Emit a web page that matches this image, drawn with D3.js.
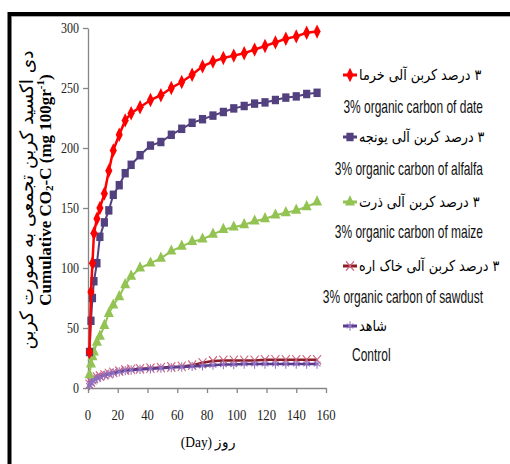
<!DOCTYPE html>
<html><head><meta charset="utf-8">
<script src="https://cdn.jsdelivr.net/npm/d3@7"></script>
<style>html,body{margin:0;padding:0;background:#fff}</style>
</head><body><svg id="chart" width="510" height="464"></svg>
<script>
// Incubation days on which cumulative CO2-C was measured
const days = [1,2,3,4,6,8,11,14,17,21,25,29,35,42,49,56,63,70,77,84,91,98,105,112,119,126,133,140,147,154];
const dateVals    = [30,80,104,129,141,150,162,181,198,211,223,229,234,240,244,250,255,261,268,272,275,277,279,282,285,288,291,293,296,297];
const alfalfaVals = [30,56,75,89,104,126,138,148,161,169,179,186,194,202,205,211,216,221,224,227,230,233,235,237,238,240,242,243,245,246];
const maizeVals   = [11,20,26,30,38,43,52,62,69,76,86,93,100,104,108,114,118,122,124,128,132,134,136,139,141,144,146,148,151,155];
const sawdustVals = [3,5,7,8,9,10,11,12,13,14,15,15.5,16,16.5,17,17.5,18,19,21,22.5,23,23,23,23,23.5,23.5,23.5,23.5,23.5,23.5];
const controlVals = [2,4,6,7,8,9,10.5,11.5,12.5,13.5,14.5,15,15.5,16,16.5,17,17.5,18,18.5,19,19.5,19.5,20,20,20,20,20,20,20,20];
const xTicks = [0,20,40,60,80,100,120,140,160];
const yTicks = [0,50,100,150,200,250,300];
const namesFa = ["۳ درصد کربن آلی خرما","۳ درصد کربن آلی یونجه","۳ درصد کربن آلی ذرت","۳ درصد کربن آلی خاک اره","شاهد"];
const namesEn = ["3% organic carbon of date","3% organic carbon of alfalfa","3% organic carbon of maize","3% organic carbon of  sawdust","Control"];

const svg = d3.select("#chart");
const serif = "'Liberation Serif','Times New Roman',serif";
const sans = "'Liberation Sans',Arial,sans-serif";
const arabic = "'DejaVu Sans','Noto Sans',sans-serif";
const RLM = "\u200F"; // keeps the Persian digit at the right end of a right-to-left label

// outer frame
svg.append("rect").attr("x",9.5).attr("y",14).attr("width",540).attr("height",500)
  .attr("fill","#fff").attr("stroke","#000").attr("stroke-width",4);
svg.append("line").attr("x1",12).attr("x2",510).attr("y1",16.5).attr("y2",16.5)
  .attr("stroke","#aaa").attr("stroke-width",1);

const x = d3.scaleLinear().domain([0,160]).range([88,326]);
const y = d3.scaleLinear().domain([0,300]).range([388,28]);

// condensed text helper
function label(g, px, py, str, o) {
  return g.append("text")
    .attr("transform", `translate(${px},${py}) scale(${o.sx||1},1)`)
    .attr("font-family", o.font).attr("font-size", o.size)
    .attr("font-weight", o.weight||"normal")
    .attr("fill", o.fill||"#000")
    .attr("text-anchor", o.anchor||"start")
    .attr("dominant-baseline","central")
    .text(str);
}

// axes
const axisColor = "#868686";
const gx = svg.append("g").attr("transform", `translate(0,${y(0)})`)
  .call(d3.axisBottom(x).tickValues(xTicks).tickSize(5).tickSizeOuter(0).tickFormat(""));
const gy = svg.append("g").attr("transform", `translate(${x(0)},0)`)
  .call(d3.axisLeft(y).tickValues(yTicks).tickSize(5).tickSizeOuter(0).tickFormat(""));
[gx, gy].forEach(g => {
  g.select(".domain").attr("stroke", axisColor).attr("stroke-width",1.3);
  g.selectAll(".tick line").attr("stroke", axisColor).attr("stroke-width",1.3);
});
const tickG = svg.append("g");
xTicks.forEach(v => label(tickG, x(v), 415, String(v), {font:serif, size:15, sx:0.85, anchor:"middle", fill:"#222"}));
yTicks.forEach(v => label(tickG, 79, y(v), String(v), {font:serif, size:15, sx:0.8, anchor:"end", fill:"#222"}));

// axis titles
label(svg, 208, 442, "(Day) روز", {font:serif, size:15, sx:0.9, anchor:"middle"});

const yt = svg.append("g").attr("transform","translate(26,200) rotate(-90)");
yt.append("text").attr("text-anchor","middle").attr("dominant-baseline","central")
  .attr("font-family", arabic).attr("font-size",18.5).attr("fill","#000")
  .text("دی اکسید کربن تجمعی به صورت کربن");
const ye = svg.append("g").attr("transform","translate(45,190) rotate(-90)");
const et = ye.append("text").attr("text-anchor","middle").attr("dominant-baseline","central")
  .attr("font-family", serif).attr("font-size",17).attr("font-weight","bold").attr("fill","#000");
et.append("tspan").text("Cumulative CO");
et.append("tspan").attr("font-size",11).attr("dy",4).text("2");
et.append("tspan").attr("dy",-4).text("-C (mg 100gr");
et.append("tspan").attr("font-size",11).attr("dy",-5).text("-1");
et.append("tspan").attr("dy",5).text(")");

// series
const series = [
  {vals: sawdustVals, line:"#8b1d24", mark:"#d0607a", sym:d3.symbolTimes, size:60, fill:false, lw:2.5},
  {vals: controlVals, line:"#5b3b8c", mark:"#9070c0", sym:d3.symbolAsterisk, size:60, fill:false, lw:2.5},
  {vals: maizeVals, line:"#92c353", mark:"#92c353", sym:d3.symbolTriangle, size:60, fill:true, lw:2},
  {vals: alfalfaVals, line:"#52407f", mark:"#52407f", sym:d3.symbolSquare, size:72, fill:true, lw:2},
  {vals: dateVals, line:"#ff0000", mark:"#ff0000", sym:d3.symbolDiamond, size:60, fill:true, lw:2.5}
];
const lineGen = d3.line().x((d,i)=>x(days[i])).y(d=>y(d));
series.forEach(s => {
  const g = svg.append("g");
  g.append("path").datum(s.vals).attr("d", lineGen)
    .attr("fill","none").attr("stroke", s.line).attr("stroke-width", s.lw);
  g.selectAll("path.m").data(s.vals).join("path").attr("class","m")
    .attr("d", d3.symbol(s.sym, s.size)())
    .attr("transform", (d,i)=>`translate(${x(days[i])},${y(d)}) scale(0.85,1)`)
    .attr("fill", s.fill ? s.mark : "none")
    .attr("stroke", s.mark).attr("stroke-width", s.fill ? 0 : 1.2);
});

// legend
const legend = svg.append("g");
const order = [4,3,2,0,1]; // date, alfalfa, maize, sawdust, control
const faY = [75,137,202,266,326];
const enY = [107,169,232,297,355];
order.forEach((si, k) => {
  const s = series[si];
  legend.append("line").attr("x1",343).attr("x2",357).attr("y1",faY[k]).attr("y2",faY[k])
    .attr("stroke", s.line).attr("stroke-width",3);
  legend.append("path").attr("d", d3.symbol(s.sym, s.size)())
    .attr("transform", `translate(350,${faY[k]}) scale(0.85,1)`)
    .attr("fill", s.fill ? s.mark : "none")
    .attr("stroke", s.mark).attr("stroke-width", s.fill ? 0 : 1.2);
  label(legend, 359, faY[k], RLM + namesFa[k], {font:arabic, size:15, sx:0.85});
  const o = {font:sans, size:18, sx:0.665, fill:"#111"};
  if (k < 4) label(legend, 483, enY[k], namesEn[k], Object.assign({anchor:"end"}, o));
  else label(legend, 352, enY[k], namesEn[k], o);
});
</script></body></html>
